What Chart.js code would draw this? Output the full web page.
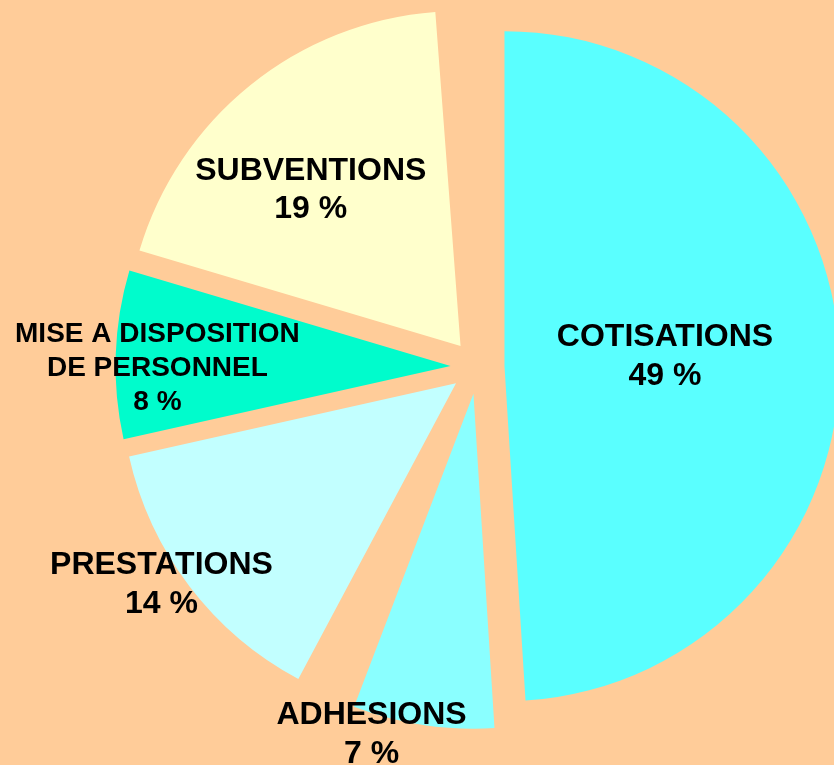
<!DOCTYPE html>
<html>
<head>
<meta charset="utf-8">
<script src="https://cdn.jsdelivr.net/npm/chart.js@4.4.1/dist/chart.umd.min.js"></script>
<style>
  html, body { margin: 0; padding: 0; background: #ffcc99; }
  #wrap { width: 834px; height: 765px; overflow: hidden; }
</style>
</head>
<body>
<div id="wrap"><canvas id="chart-recettes" width="834" height="765"></canvas></div>
<script>
"use strict"

// two unlabelled gaps in the original pie are kept as transparent slices
var categories = [['COTISATIONS'], ['ADHESIONS'], [], ['PRESTATIONS'], ['MISE A DISPOSITION', 'DE PERSONNEL'], ['SUBVENTIONS'], []]
var values = [49, 6.8, 2, 13.7, 8.1, 19.2, 1.2]
var colors = ['#5affff', '#8affff', 'rgba(0,0,0,0)', '#c2ffff', '#00fccc', '#ffffcc', 'rgba(0,0,0,0)']

// label placement: part of radius, turn from mid angle (deg), font size
var labelRadius = [0.48, 1.062, 0, 1.065, 0.875, 0.645, 0]
var labelTurn = [-1.6, 8, 0, 2.9, -2.4, -5, 0]
var labelSize = [32, 32, 0, 32, 28, 32, 0]
var explode = 27

var explodePlugin = {
    id: 'explode',
    afterDatasetsUpdate: function (chart) {
        chart.getDatasetMeta(0).data.forEach(function (arc) {
            var mid = (arc.startAngle + arc.endAngle) / 2
            arc.x += Math.cos(mid) * explode
            arc.y += Math.sin(mid) * explode
        })
    }
}

var labelPlugin = {
    id: 'sliceLabels',
    afterDatasetsDraw: function (chart) {
        var ctx = chart.ctx
        var total = values.reduce(function (a, b) { return a + b }, 0)
        chart.getDatasetMeta(0).data.forEach(function (arc, i) {
            if (!categories[i].length) return
            var a = (arc.startAngle + arc.endAngle) / 2 + labelTurn[i] * Math.PI / 180
            var r = arc.outerRadius * labelRadius[i]
            var x = arc.x + Math.cos(a) * r
            var y = arc.y + Math.sin(a) * r
            var lines = categories[i].concat([Math.round(values[i] / total * 100) + ' %'])
            var lh = labelSize[i] * 1.2
            ctx.save()
            ctx.font = 'bold ' + labelSize[i] + 'px "Liberation Sans", Arial, sans-serif'
            ctx.fillStyle = '#000'
            ctx.textAlign = 'center'
            ctx.textBaseline = 'middle'
            lines.forEach(function (t, j) {
                ctx.fillText(t, x, y + (j - (lines.length - 1) / 2) * lh)
            })
            ctx.restore()
        })
    }
}

var ctx = document.getElementById('chart-recettes').getContext('2d')
var chartRecettes = new Chart(ctx, {
    type: 'pie',
    data: {
        labels: categories,
        datasets: [{
            data: values,
            backgroundColor: colors,
            borderWidth: 0
        }]
    },
    options: {
        responsive: false,
        animation: false,
        events: [],
        radius: 335,
        layout: {
            padding: { left: 121, right: 0, top: 0, bottom: 31 }
        },
        plugins: {
            legend: { display: false },
            tooltip: { enabled: false }
        }
    },
    plugins: [explodePlugin, labelPlugin]
})
</script>
</body>
</html>
